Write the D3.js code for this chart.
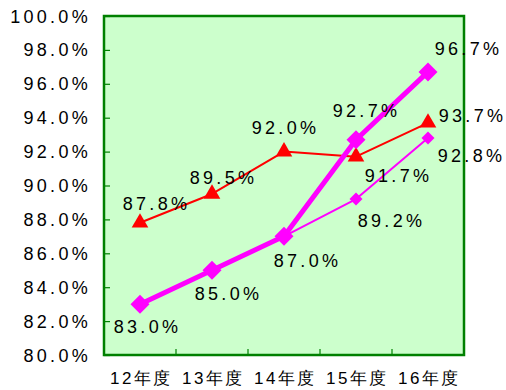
<!DOCTYPE html>
<html>
<head>
<meta charset="utf-8">
<script src="https://cdn.jsdelivr.net/npm/d3@7"></script>
<style>
  html, body { margin: 0; padding: 0; background: #ffffff; }
  svg { display: block; }
  text { font-family: "Liberation Sans", Arial, sans-serif; fill: #000; }
</style>
</head>
<body>
<svg id="chart" width="506" height="390"></svg>
<script>
// Fiscal years on the category axis
const categories = ["12年度", "13年度", "14年度", "15年度", "16年度"];

// Series values (%)
const redValues = [87.8, 89.5, 92.0, 91.7, 93.7];
const thickValues = [83.0, 85.0, 87.0, 92.7, 96.7];
const thinValues = [null, null, 87.0, 89.2, 92.8];

// Value-axis tick labels
const yTicks = [80, 82, 84, 86, 88, 90, 92, 94, 96, 98, 100];

// Label placement offsets (dx, dy from each point; null = no label)
const redLabelOffsets = [[15, -13], [10, -10], [0, -18], [41, 25], [43, -1]];
const thickLabelOffsets = [[6, 29], [15, 30], [22, 31], [9, -23], [39, -17]];
const thinLabelOffsets = [null, null, null, [34, 28], [42, 24]];

const svg = d3.select("#chart");
const plot = { left: 104, right: 464, top: 16, bottom: 355 };

const x = d3.scaleBand().domain(categories).range([plot.left, plot.right]).padding(0);
const y = d3.scaleLinear().domain([80, 100]).range([plot.bottom, plot.top]);
const cx = c => x(c) + x.bandwidth() / 2;

// Plot background and frame
svg.append("rect")
  .attr("x", plot.left).attr("y", plot.top)
  .attr("width", plot.right - plot.left).attr("height", plot.bottom - plot.top)
  .attr("fill", "#ccffcc").attr("stroke", "#008000").attr("stroke-width", 2.5);

// Value-axis ticks (inside) and labels
const yAxis = d3.axisRight(y).tickValues(yTicks).tickSize(6).tickFormat("");
const yg = svg.append("g").attr("transform", `translate(${plot.left},0)`).call(yAxis);
yg.select(".domain").remove();
yg.selectAll(".tick line").attr("stroke", "#008000").attr("stroke-width", 1.2);

svg.append("g").selectAll("text").data(yTicks).join("text")
  .attr("x", 91).attr("y", d => y(d) + 6.5)
  .attr("text-anchor", "end")
  .style("font-size", "18px").style("letter-spacing", "3.3px")
  .text(d => d3.format(".1f")(d) + "%");

// Category-axis ticks at band boundaries (inside)
const bounds = categories.slice(1).map(c => x(c));
svg.append("g").selectAll("line").data(bounds).join("line")
  .attr("x1", d => d).attr("x2", d => d)
  .attr("y1", plot.bottom).attr("y2", plot.bottom - 6)
  .attr("stroke", "#008000").attr("stroke-width", 1.2);

svg.append("g").selectAll("text").data(categories).join("text")
  .attr("x", d => cx(d) + 1.5).attr("y", 384)
  .attr("text-anchor", "middle")
  .style("font-size", "17px").style("letter-spacing", "2.5px")
  .text(d => d);

// Marker path; diamonds are squares turned 45 degrees
function marker(type, size) {
  return d3.symbol().type(type).size(size)();
}

function series(values, color, width, type, size, rotate, offsets) {
  const pts = values.map((v, i) => ({ c: categories[i], v, off: offsets[i] })).filter(d => d.v != null);
  const line = d3.line().x(d => cx(d.c)).y(d => y(d.v));
  const g = svg.append("g");
  g.append("path").datum(pts).attr("d", line)
    .attr("fill", "none").attr("stroke", color).attr("stroke-width", width)
    .attr("stroke-linejoin", "round");
  g.selectAll(".m").data(pts).join("path")
    .attr("transform", d => `translate(${cx(d.c)},${y(d.v)}) rotate(${rotate})`)
    .attr("d", marker(type, size)).attr("fill", color);
  return pts;
}

function labels(pts) {
  svg.append("g").selectAll("text").data(pts.filter(d => d.off)).join("text")
    .attr("x", d => cx(d.c) + d.off[0] + 1.5)
    .attr("y", d => y(d.v) + d.off[1])
    .attr("text-anchor", "middle")
    .style("font-size", "18px").style("letter-spacing", "3.3px")
    .text(d => d3.format(".1f")(d.v) + "%");
}

const redPts = series(redValues, "#ff0000", 2, d3.symbolTriangle, 120, 0, redLabelOffsets);
const thinPts = series(thinValues, "#ff00ff", 2, d3.symbolSquare, 85, 45, thinLabelOffsets);
const thickPts = series(thickValues, "#ff00ff", 5, d3.symbolSquare, 180, 45, thickLabelOffsets);

labels(redPts);
labels(thinPts);
labels(thickPts);
</script>
</body>
</html>
